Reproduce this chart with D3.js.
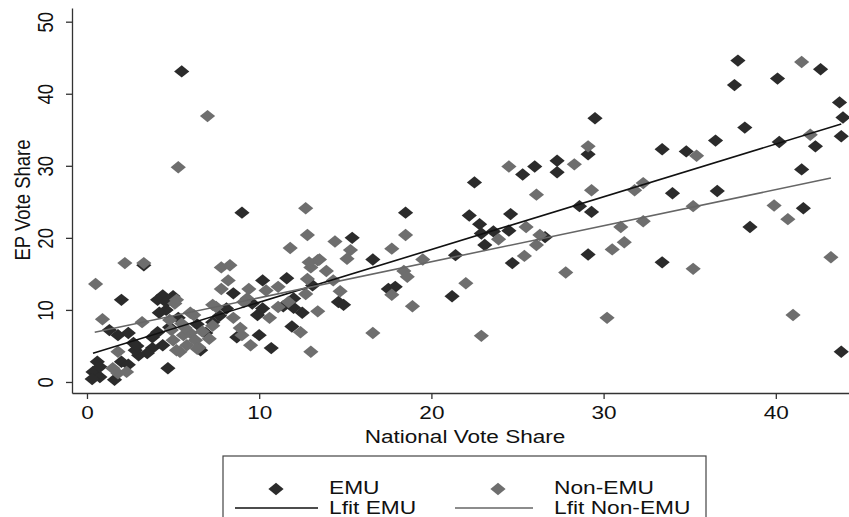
<!DOCTYPE html>
<html>
<head>
<meta charset="utf-8">
<script src="https://cdn.jsdelivr.net/npm/d3@7"></script>
<style>
  body { margin: 0; background: #fff; }
  text { font-family: "Liberation Sans", Arial, Helvetica, sans-serif; fill: #111; }
</style>
</head>
<body>
<div id="chart"></div>
<script>
// values
let emuX = [5.5, 9.0, 18.5, 22.5, 25.3, 26.0, 27.3, 27.3, 37.8, 42.6, 40.1, 37.6, 43.7, 43.9, 29.5, 38.2,
  36.5, 43.8, 40.2, 42.3, 33.4, 34.8, 29.1, 41.5, 34.0, 36.6, 28.6, 29.3, 41.6, 38.5, 29.1, 33.4,
  43.8, 22.2, 24.6, 22.8, 23.6, 22.9, 24.5, 26.6, 23.1, 24.7, 16.6, 15.4, 21.4, 21.2, 11.6, 12.0,
  13.1, 14.6, 14.9, 17.5, 17.9, 11.4, 12.0, 12.5, 11.9, 3.3, 2.0, 8.5, 10.2, 9.6, 9.9, 10.0,
  10.7, 8.7, 7.3, 4.4, 4.1, 4.6, 4.1, 3.8, 3.5, 4.7, 1.3, 1.8, 2.4, 2.7, 3.0, 0.6,
  0.35, 0.75, 0.3, 1.6, 2.0, 2.4, 0.75, 8.1, 10.2, 6.9, 5.3, 4.8, 4.4, 2.8, 3.8, 4.2,
  4.6, 5.0, 6.4, 7.7, 6.6, 2.9];
let emuY = [43.1, 23.5, 23.5, 27.7, 28.8, 29.9, 30.7, 29.1, 44.6, 43.4, 42.1, 41.2, 38.8, 36.7, 36.6, 35.3,
  33.5, 34.1, 33.3, 32.7, 32.3, 32.0, 31.6, 29.5, 26.2, 26.5, 24.4, 23.6, 24.1, 21.5, 17.7, 16.6,
  4.2, 23.1, 23.3, 21.9, 20.9, 20.6, 21.0, 20.1, 19.0, 16.5, 17.0, 20.0, 17.6, 11.9, 14.4, 11.6,
  13.4, 11.1, 10.7, 12.9, 13.2, 10.5, 10.3, 9.6, 7.7, 16.2, 11.4, 12.3, 14.1, 10.9, 9.3, 6.5,
  4.7, 6.2, 8.3, 12.0, 11.4, 10.0, 6.9, 4.7, 4.0, 1.9, 7.2, 6.5, 6.8, 5.4, 3.7, 2.8,
  1.4, 0.7, 0.4, 0.3, 2.8, 2.4, 2.1, 10.2, 10.2, 6.8, 8.9, 7.6, 5.1, 4.4, 6.2, 9.6,
  11.1, 11.9, 8.0, 9.2, 4.4, 5.0];

let nonX = [7.0, 5.3, 24.5, 28.3, 26.1, 41.5, 42.0, 35.4, 29.1, 29.3, 31.8, 32.3, 35.2, 39.9, 40.7, 32.3,
  31.0, 31.2, 30.5, 27.8, 35.2, 43.2, 30.2, 41.0, 12.7, 25.5, 26.3, 26.1, 23.9, 25.4, 18.5, 17.7,
  14.4, 15.3, 15.1, 19.5, 22.0, 22.9, 11.8, 12.8, 13.4, 13.0, 13.9, 12.8, 14.3, 14.7, 12.7, 18.4,
  18.6, 17.7, 18.9, 13.4, 12.4, 13.0, 16.6, 2.2, 3.3, 0.5, 7.8, 8.3, 8.2, 7.8, 10.4, 9.4,
  9.3, 11.1, 10.6, 8.5, 8.9, 9.0, 9.5, 7.3, 7.1, 7.5, 6.5, 5.8, 6.2, 6.0, 5.2, 4.8,
  4.9, 5.0, 5.4, 3.2, 0.9, 1.8, 1.5, 1.8, 2.3, 11.1, 12.9, 13.5, 7.3, 9.1, 6.0, 5.1,
  5.2, 11.7, 5.6, 6.3, 5.7, 6.7, 6.4, 5.5];
let nonY = [36.9, 29.8, 29.9, 30.2, 26.0, 44.4, 34.3, 31.4, 32.7, 26.6, 26.6, 27.6, 24.4, 24.5, 22.6, 22.3,
  21.5, 19.4, 18.4, 15.2, 15.7, 17.3, 8.9, 9.3, 24.1, 21.5, 20.4, 19.0, 19.8, 17.5, 20.4, 18.5,
  19.5, 18.3, 17.1, 17.0, 13.7, 6.4, 18.6, 20.4, 16.9, 15.9, 15.4, 14.3, 14.1, 12.6, 12.2, 15.4,
  14.6, 12.1, 10.5, 9.8, 6.9, 4.2, 6.8, 16.5, 16.5, 13.6, 15.9, 16.2, 14.1, 12.9, 12.7, 12.9,
  11.6, 10.4, 8.9, 8.9, 7.5, 6.5, 5.1, 7.8, 6.0, 10.4, 4.8, 5.1, 9.3, 6.8, 11.4, 8.6,
  7.2, 5.8, 4.2, 8.3, 8.7, 4.2, 1.9, 1.2, 1.4, 13.2, 16.6, 17.0, 10.7, 11.1, 9.6, 10.9,
  4.4, 11.1, 6.5, 5.8, 7.5, 7.0, 4.6, 8.1];

// linear fit lines (end points as seen)
let fitEmu = [[0.35, 4.0], [43.8, 35.8]];
let fitNon = [[0.45, 6.9], [43.2, 28.3]];

let xTicks = [0, 10, 20, 30, 40];
let yTicks = [0, 10, 20, 30, 40, 50];
let series = ["EMU", "Non-EMU"];
let fitNames = ["Lfit EMU", "Lfit Non-EMU"];

let width = 849;
let height = 517;
let stretch = 1.22;   // the picture is wider than tall, text too
let fs = 18.5;
let legendFs = 17.5;
let legendStretch = 1.3;

let emuCol = "#2b2b2b";
let nonCol = "#6e6e6e";

let svg = d3.select("#chart").append("svg")
  .attr("width", width)
  .attr("height", height);

let x = d3.scaleLinear().domain([-0.87, 44.25]).range([72, 849]);
let y = d3.scaleLinear().domain([-1.53, 51.9]).range([393, 8]);

// stretched text helper
function label(g, tx, ty, str, rot, size, sx) {
  return g.append("text")
    .attr("transform", "translate(" + tx + "," + ty + ") scale(" + (sx || stretch) + ",1)" + (rot ? " rotate(-90)" : ""))
    .attr("text-anchor", rot ? "middle" : "start")
    .style("font-size", (size || fs) + "px")
    .text(str);
}

// axes
let xAxis = svg.append("g")
  .attr("transform", "translate(0,393)")
  .call(d3.axisBottom(x).tickValues(xTicks).tickSize(6).tickSizeOuter(0).tickFormat(d3.format("d")));
xAxis.selectAll("text")
  .attr("y", 0).attr("dy", 0)
  .attr("transform", "translate(0,26) scale(" + stretch + ",1)")
  .style("font-size", fs + "px");

let yAxis = svg.append("g")
  .attr("transform", "translate(72,0)")
  .call(d3.axisLeft(y).tickValues(yTicks).tickSize(6).tickSizeOuter(0).tickFormat(d3.format("d")));
yAxis.selectAll("text")
  .attr("x", 0).attr("dy", 0)
  .attr("text-anchor", "middle")
  .attr("transform", "translate(-19,0) scale(" + stretch + ",1) rotate(-90)")
  .style("font-size", fs + "px");

svg.selectAll(".domain, .tick line").attr("stroke", "#333").attr("stroke-width", 1.3);

// axis titles
label(svg, 465, 443, "National Vote Share", false).attr("text-anchor", "middle");
label(svg, 30, 200, "EP Vote Share", true);

// diamonds
let diamond = "M0,-6.2L7.6,0L0,6.2L-7.6,0Z";

let emuPts = emuX.map((v, i) => [v, emuY[i]]);
let nonPts = nonX.map((v, i) => [v, nonY[i]]);

svg.append("g").selectAll("path")
  .data(emuPts)
  .enter()
  .append("path")
  .attr("d", diamond)
  .attr("transform", d => "translate(" + x(d[0]) + "," + y(d[1]) + ")")
  .attr("fill", emuCol);

svg.append("g").selectAll("path")
  .data(nonPts)
  .enter()
  .append("path")
  .attr("d", diamond)
  .attr("transform", d => "translate(" + x(d[0]) + "," + y(d[1]) + ")")
  .attr("fill", nonCol);

// fit lines
let line = d3.line().x(d => x(d[0])).y(d => y(d[1]));
svg.append("path").datum(fitEmu).attr("d", line)
  .attr("fill", "none").attr("stroke", "#111").attr("stroke-width", 1.6);
svg.append("path").datum(fitNon).attr("d", line)
  .attr("fill", "none").attr("stroke", "#666").attr("stroke-width", 1.6);

// legend
let legend = svg.append("g").attr("class", "legend");
legend.append("rect")
  .attr("x", 223).attr("y", 456)
  .attr("width", 483).attr("height", 80)
  .attr("fill", "#fff").attr("stroke", "#444").attr("stroke-width", 1.2);

legend.append("path").attr("d", diamond).attr("transform", "translate(276,489)").attr("fill", emuCol);
legend.append("path").attr("d", diamond).attr("transform", "translate(498,489)").attr("fill", nonCol);
label(legend, 329, 494, series[0], false, legendFs, legendStretch);
label(legend, 554, 494, series[1], false, legendFs, legendStretch);

legend.append("line").attr("x1", 235).attr("x2", 318).attr("y1", 508).attr("y2", 508)
  .attr("stroke", "#111").attr("stroke-width", 1.6);
legend.append("line").attr("x1", 455).attr("x2", 533).attr("y1", 508).attr("y2", 508)
  .attr("stroke", "#666").attr("stroke-width", 1.6);
label(legend, 329, 513.5, fitNames[0], false, legendFs, legendStretch);
label(legend, 554, 513.5, fitNames[1], false, legendFs, legendStretch);
</script>
</body>
</html>
